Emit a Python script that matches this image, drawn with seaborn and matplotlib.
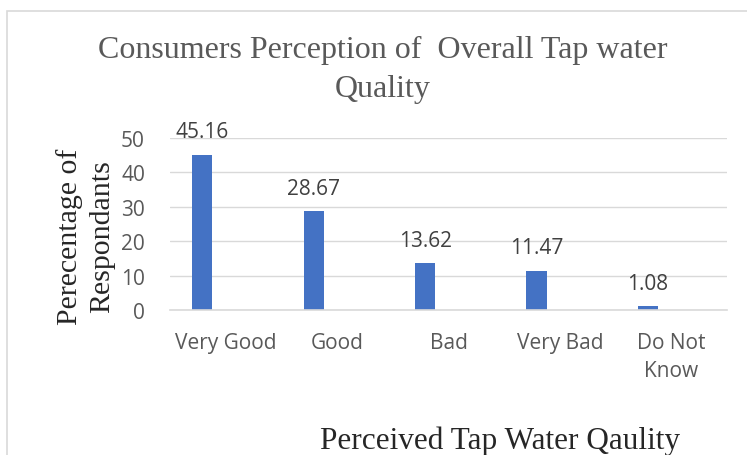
import matplotlib
matplotlib.use("Agg")
import matplotlib.pyplot as plt
import seaborn as sns
import pandas as pd
from matplotlib.patches import Rectangle

categories = ["Very Good", "Good", "Bad", "Very Bad", "Do Not\nKnow"]
percentages = [45.16, 28.67, 13.62, 11.47, 1.08]
empty_series = [0, 0, 0, 0, 0]
y_ticks = [0, 10, 20, 30, 40, 50]

df = pd.DataFrame({
    "category": categories * 2,
    "value": percentages + empty_series,
    "series": ["Percentage"] * 5 + ["Empty"] * 5,
})

sns.set_theme(style="white")
serif = ["Liberation Serif", "DejaVu Serif"]
sans = ["Open Sans", "DejaVu Sans"]

fig = plt.figure(figsize=(7.47, 4.56), dpi=100)
fig.patches.append(Rectangle((7 / 747, -0.1), 1.2, (456 - 12) / 456 + 0.1,
                             transform=fig.transFigure, fill=False,
                             edgecolor="#d9d9d9", linewidth=1.2))
ax = fig.add_axes([170 / 747, 1 - 311 / 456, (727 - 170) / 747, (311 - 139) / 456])

sns.barplot(data=df, x="category", y="value", hue="series",
            hue_order=["Percentage", "Empty"], order=categories,
            palette={"Percentage": "#4472c4", "Empty": "#ed7d31"},
            saturation=1, width=0.84, gap=0.57, dodge=True, linewidth=0,
            errorbar=None, legend=False, ax=ax)

ax.set_xlim(-0.5, 4.5)
ax.set_ylim(0, 50)
ax.set_yticks(y_ticks)
ax.yaxis.grid(True, color="#d9d9d9", linewidth=1)
ax.set_axisbelow(True)
for s in ["top", "right", "left"]:
    ax.spines[s].set_visible(False)
ax.spines["bottom"].set_color("#d9d9d9")
ax.spines["bottom"].set_linewidth(1.2)
ax.tick_params(axis="both", length=0, colors="#595959", labelsize=15)
ax.tick_params(axis="x", pad=16)
ax.tick_params(axis="y", pad=18)
for lbl in ax.get_xticklabels() + ax.get_yticklabels():
    lbl.set_fontfamily(sans)
    lbl.set_linespacing(1.4)
ax.set_xlabel("")
ax.set_ylabel("")

# data labels on the first series
for bar, v in zip(ax.patches[:5], percentages):
    ax.annotate(f"{v:.2f}", (bar.get_x() + bar.get_width() / 2, bar.get_height()),
                xytext=(0, 9), textcoords="offset points", ha="center", va="bottom",
                fontsize=15, color="#404040", family=sans, annotation_clip=False)

fig.text(383 / 747, 1 - 70 / 456, "Consumers Perception of  Overall Tap water\nQuality",
         ha="center", va="center", fontsize=23, color="#595959", family=serif,
         linespacing=1.45)
fig.text(86 / 747, 1 - 237 / 456, "Perecentage of\nRespondants", rotation=90,
         ha="center", va="center", fontsize=21.5, color="#262626", family=serif,
         linespacing=1.3)
fig.text(500 / 747, 1 - 441 / 456, "Perceived Tap Water Qaulity",
         ha="center", va="center", fontsize=22.5, color="#262626", family=serif)

fig.savefig("out.png", dpi=100)
